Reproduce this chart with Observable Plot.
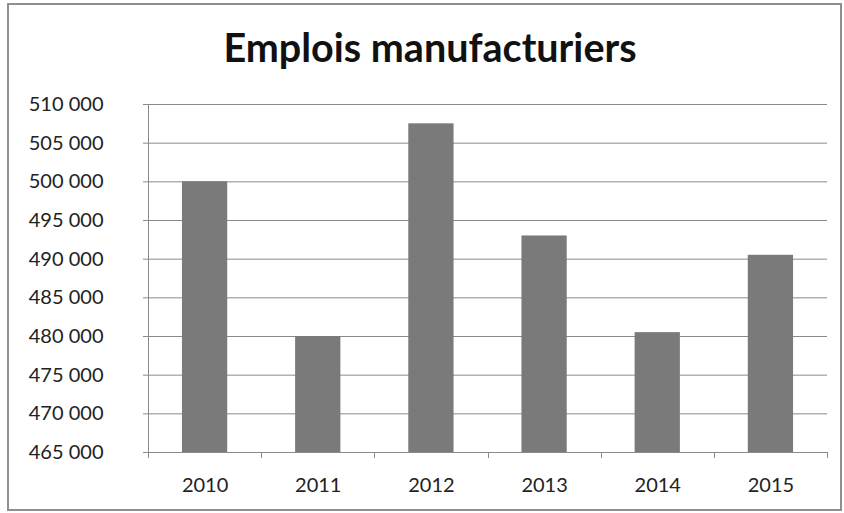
<!DOCTYPE html>
<html>
<head>
<meta charset="utf-8">
<script src="https://cdn.jsdelivr.net/npm/d3@7"></script>
<script src="https://cdn.jsdelivr.net/npm/@observablehq/plot@0.6"></script>
<style>
  body { margin: 0; background: #fff; }
  #wrap { position: relative; width: 844px; height: 513px; overflow: hidden; background: #fff; }
  #title { position: absolute; left: 430px; top: 23px; transform: translateX(-50%); white-space: nowrap;
           font-family: Lato, "Open Sans", sans-serif; font-weight: 700; font-size: 39.5px; line-height: 1.2; color: #111; }
  #chart { position: absolute; left: 0; top: 90px; }
  #border { position: absolute; left: 7px; top: 3px; width: 835px; height: 508px; box-sizing: border-box;
            border: 2px solid #8f8f8f; pointer-events: none; }
</style>
</head>
<body>
<div id="wrap">
  <div id="title"></div>
  <div id="chart"></div>
  <div id="border"></div>
</div>
<script>
const chartTitle = "Emplois manufacturiers";
const years = ["2010", "2011", "2012", "2013", "2014", "2015"];
const jobs = [500000, 480000, 507500, 493000, 480500, 490500];
const yDomain = [465000, 510000];
const yTicks = [465000, 470000, 475000, 480000, 485000, 490000, 495000, 500000, 505000, 510000];

document.getElementById("title").textContent = chartTitle;

const data = years.map((year, i) => ({year, jobs: jobs[i]}));
const fmt = d => d3.format(",")(d).replace(/,/g, " ");
const lineColor = "#8a8a8a";

const plot = Plot.plot({
  width: 844,
  height: 423,
  marginTop: 14,
  marginBottom: 61,
  marginLeft: 148,
  marginRight: 17,
  style: {fontFamily: "Lato, 'Open Sans', sans-serif", fontSize: "20px", color: "#222", background: "transparent"},
  x: {domain: years, paddingInner: 0.6, paddingOuter: 0.3, round: false, label: null},
  y: {domain: yDomain, label: null},
  marks: [
    Plot.gridY(yTicks, {stroke: lineColor, strokeOpacity: 1}),
    Plot.barY(data, {x: "year", y1: () => yDomain[0], y2: "jobs", fill: "#7a7a7a"}),
    Plot.ruleY([yDomain[0]], {stroke: lineColor}),
    Plot.axisY(yTicks, {tickSize: 5, tickPadding: 40, tickFormat: fmt, stroke: lineColor, fill: "#222", label: null}),
    Plot.axisX({tickSize: 0, tickPadding: 25, fill: "#222", label: null})
  ]
});

// vertical axis line and category boundary ticks, placed with the plot's own scales
const xs = plot.scale("x");
const ys = plot.scale("y");
const [r0, r1] = xs.range;
const step = xs.step != null ? xs.step : (r1 - r0) / years.length;
const yb = ys.apply(yDomain[0]);
const yt = ys.apply(yDomain[1]);
const g = d3.select(plot).append("g").attr("stroke", lineColor).attr("stroke-width", 1);
g.append("line")
  .attr("x1", Math.round(r0) + 0.5).attr("x2", Math.round(r0) + 0.5)
  .attr("y1", yt).attr("y2", yb + 6);
for (let i = 0; i <= years.length; i++) {
  const x = Math.round(r0 + i * step) + 0.5;
  g.append("line").attr("x1", x).attr("x2", x).attr("y1", yb).attr("y2", yb + 6);
}

document.getElementById("chart").appendChild(plot);
</script>
</body>
</html>
